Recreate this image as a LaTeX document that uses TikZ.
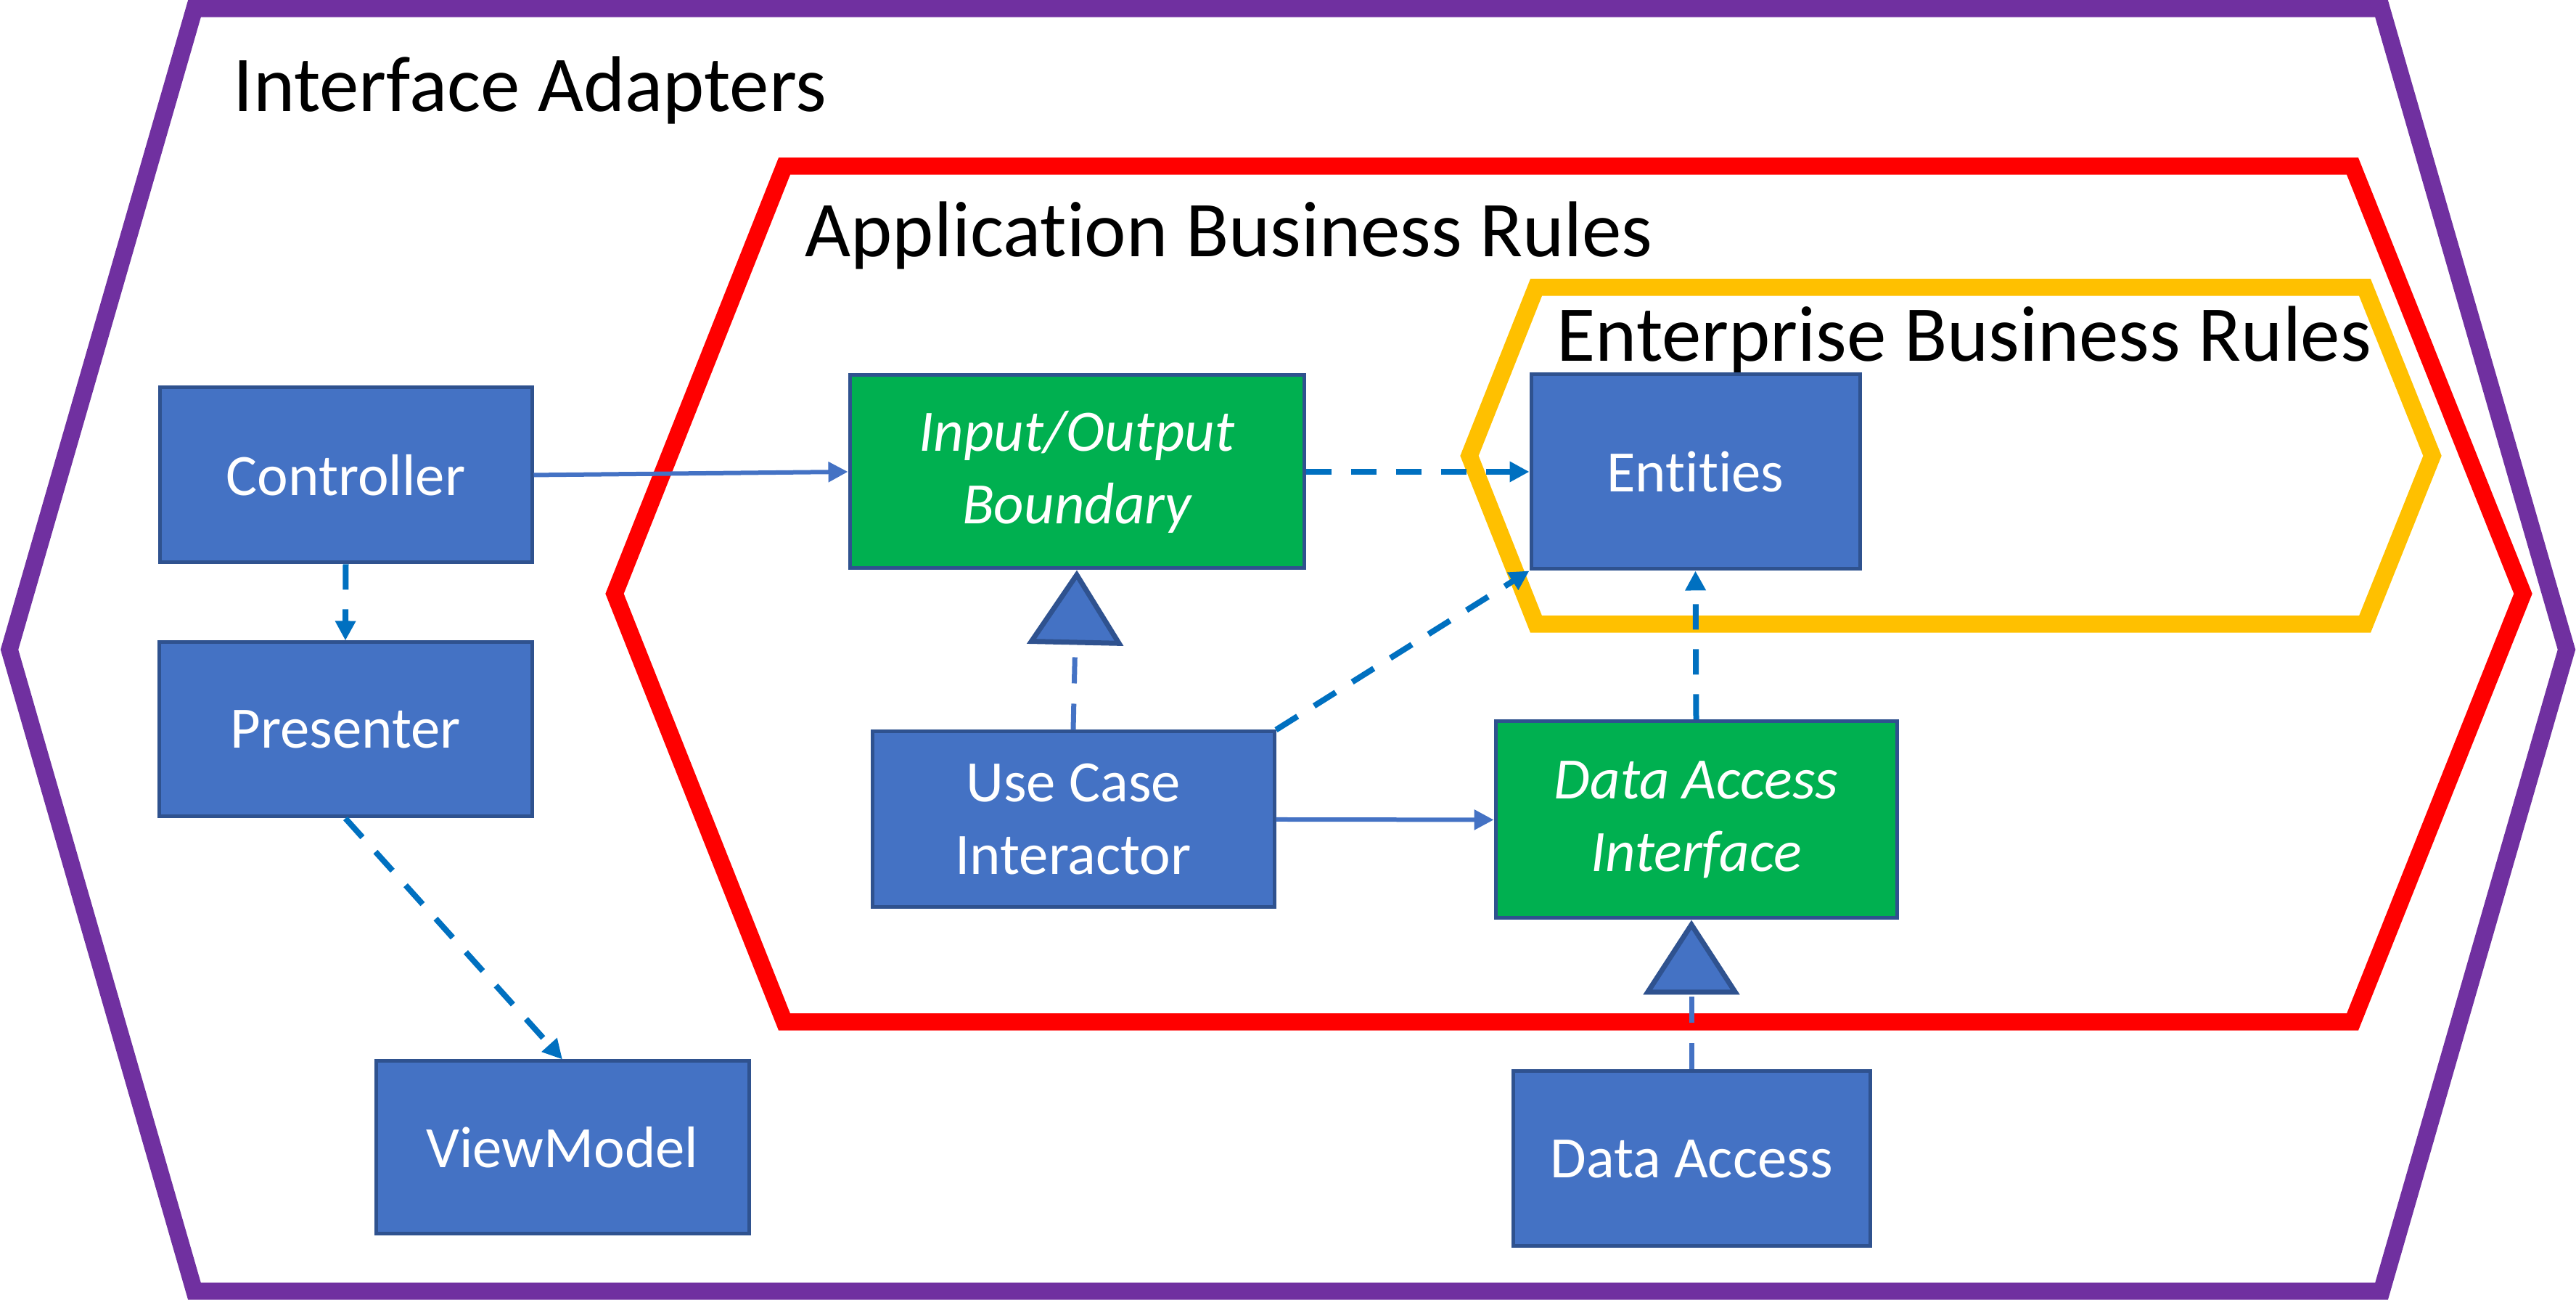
\documentclass[tikz,border=0pt]{standalone}
\usepackage{fontspec}
\setmainfont{Carlito}[Ligatures=NoCommon]
\usepackage{xcolor}
\usepackage{tikz}
\usetikzlibrary{arrows.meta}
\definecolor{adaptercolor}{HTML}{7030A0}
\definecolor{appcolor}{HTML}{FF0000}
\definecolor{entcolor}{HTML}{FFC000}
\definecolor{boxcolor}{HTML}{4472C4}
\definecolor{boxline}{HTML}{2F528F}
\definecolor{portcolor}{HTML}{00B050}
\definecolor{depcolor}{HTML}{0070C0}

\begin{document}
\begin{tikzpicture}[%
ring/.style={line width=0.235cm, line join=miter},%
block/.style={draw=boxline, line width=0.05cm, fill=boxcolor, text=white, inner sep=0pt, align=center, font=\fontsize{23pt}{28.5pt}\selectfont},%
port/.style={block, fill=portcolor, font=\fontsize{23pt}{28.5pt}\selectfont\itshape},%
layer/.style={anchor=base west, inner sep=0pt, font=\fontsize{31pt}{36pt}\selectfont},%
call/.style={draw=boxcolor, line width=0.06cm, -{Triangle[length=0.27cm, width=0.27cm]}},%
uses/.style={draw=depcolor, line width=0.08cm, dash pattern=on 0.35cm off 0.27cm, -{Triangle[length=0.27cm, width=0.27cm]}},%
realizes/.style={draw=boxcolor, line width=0.07cm, dash pattern=on 0.36cm off 0.28cm, -{Triangle[length=1.03cm, width=1.32cm, fill=boxcolor, color=boxline]}}%
]%
\useasboundingbox (0,0) rectangle (35.5,17.91);%
\draw[ring, adaptercolor] (2.68,17.79) -- (32.82,17.79) -- (35.37,8.96) -- (32.82,0.12) -- (2.68,0.12) -- (0.13,8.96) -- cycle;%
\draw[ring, appcolor] (10.81,15.62) -- (32.42,15.62) -- (34.77,9.73) -- (32.42,3.83) -- (10.81,3.83) -- (8.47,9.73) -- cycle;%
\draw[ring, entcolor] (21.17,13.95) -- (32.59,13.95) -- (33.52,11.63) -- (32.59,9.31) -- (21.17,9.31) -- (20.25,11.63) -- cycle;%
\node[layer] (adapters) at (3.21, 16.37) {Interface Adapters};%
\node[layer] (apprules) at (11.09, 14.37) {Application Business Rules};%
\node[layer] (entrules) at (21.45, 12.93) {Enterprise Business Rules};%
\node[block, minimum width=5.13cm, minimum height=2.41cm] (ctrl) at (4.765, 11.365) {Controller};%
\node[block, minimum width=5.14cm, minimum height=2.40cm] (pres) at (4.76, 7.86) {Presenter};%
\node[block, minimum width=5.14cm, minimum height=2.38cm] (vm) at (7.75, 2.10) {ViewModel};%
\node[port, minimum width=6.26cm, minimum height=2.66cm] (io) at (14.84, 11.41) {Input/Output\\Boundary};%
\node[block, minimum width=4.53cm, minimum height=2.68cm] (ent) at (23.365, 11.41) {Entities};%
\node[block, minimum width=5.54cm, minimum height=2.42cm] (uc) at (14.79, 6.62) {Use Case\\Interactor};%
\node[port, minimum width=5.53cm, minimum height=2.71cm] (dai) at (23.375, 6.615) {Data Access\\Interface};%
\node[block, minimum width=4.92cm, minimum height=2.41cm] (da) at (23.31, 1.945) {Data Access};%
\draw[call] (ctrl.east) -- (io.west);%
\draw[uses] (io.east) -- (ent.west);%
\draw[uses] (ctrl.south) -- (pres.north);%
\draw[uses] (pres.south) -- (vm.north);%
\draw[uses] (uc.north east) -- (ent.south west);%
\draw[call] (uc.east) -- (dai.west);%
\draw[uses] (dai.north) -- (ent.south);%
\draw[realizes] (uc.north) -- (io.south);%
\draw[realizes] (da.north) -- (da.north |- dai.south);%
\end{tikzpicture}
\end{document}
